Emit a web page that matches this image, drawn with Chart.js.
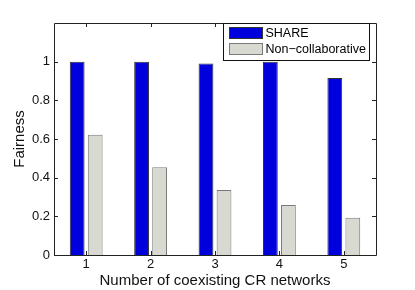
<!DOCTYPE html>
<html>
<head>
<meta charset="utf-8">
<script src="https://cdn.jsdelivr.net/npm/chart.js@4/dist/chart.umd.min.js"></script>
<style>
  html, body { margin:0; padding:0; background:#fff; }
  #wrap { width:415px; height:290px; }
</style>
</head>
<body>
<div id="wrap"><canvas id="c" width="415" height="290"></canvas></div>
<script>
(function(){
  'use strict';

  const categories = ['1', '2', '3', '4', '5'];
  const shareValues = [1.0, 1.0, 0.99, 1.0, 0.915];
  const nonCollabValues = [0.622, 0.454, 0.336, 0.258, 0.193];
  const yTicks = [0, 0.2, 0.4, 0.6, 0.8, 1];
  const seriesNames = ['SHARE', 'Non\u2212collaborative'];

  const FONT = 'Liberation Sans, Arial, Helvetica, sans-serif';

  // box around plot + inward ticks on all four sides (matlab style)
  const framePlugin = {
    id: 'frame',
    afterDatasetsDraw(chart){
      const { ctx, chartArea: a, scales } = chart;
      const x = scales.x, y = scales.y;
      ctx.save();
      ctx.strokeStyle = '#222';
      ctx.lineWidth = 1;
      ctx.beginPath();
      ctx.rect(Math.round(a.left)+0.5, Math.round(a.top)+0.5, Math.round(a.right-a.left), Math.round(a.bottom-a.top));
      ctx.stroke();
      const tl = 4;
      ctx.beginPath();
      yTicks.forEach(v => {
        const py = Math.round(y.getPixelForValue(v)) + 0.5;
        ctx.moveTo(a.left, py); ctx.lineTo(a.left + tl, py);
        ctx.moveTo(a.right, py); ctx.lineTo(a.right - tl, py);
      });
      categories.forEach((c, i) => {
        const px = Math.round(x.getPixelForValue(i)) + 0.5;
        ctx.moveTo(px, a.bottom); ctx.lineTo(px, a.bottom - tl);
        ctx.moveTo(px, a.top); ctx.lineTo(px, a.top + tl);
      });
      ctx.stroke();
      ctx.restore();
    }
  };

  // legend box inside the top-right corner
  const boxLegend = {
    id: 'boxLegend',
    afterDraw(chart){
      const { ctx, chartArea: a } = chart;
      const ds = chart.data.datasets;
      const w = 146, h = 37;
      const lx = Math.round(a.right - w - 7) + 0.5, ly = Math.round(a.top) + 0.5;
      ctx.save();
      ctx.fillStyle = '#fff';
      ctx.fillRect(lx, ly, w, h);
      ctx.strokeStyle = '#111';
      ctx.lineWidth = 1;
      ctx.strokeRect(lx, ly, w, h);
      ctx.font = '12.5px ' + FONT;
      ctx.textBaseline = 'middle';
      ds.forEach((d, i) => {
        const sy = ly + 4 + i * 16;
        ctx.fillStyle = d.backgroundColor;
        ctx.fillRect(lx + 6, sy, 33, 11);
        ctx.strokeStyle = d.borderColor;
        ctx.strokeRect(lx + 6, sy, 33, 11);
        ctx.fillStyle = '#000';
        ctx.fillText(d.label, lx + 42, sy + 6);
      });
      ctx.restore();
    }
  };

  new Chart(document.getElementById('c'), {
    type: 'bar',
    data: {
      labels: categories,
      datasets: [
        { label: seriesNames[0], data: shareValues, backgroundColor: '#0000dc', borderColor: '#333', borderWidth: 1,
          categoryPercentage: 0.56, barPercentage: 0.82 },
        { label: seriesNames[1], data: nonCollabValues, backgroundColor: '#d8dad2', borderColor: '#7a7a7a', borderWidth: 1,
          categoryPercentage: 0.56, barPercentage: 0.82 }
      ]
    },
    options: {
      responsive: false,
      animation: false,
      layout: { padding: { left: 0, right: 39, top: 23, bottom: 0 } },
      plugins: { legend: { display: false }, tooltip: { enabled: false } },
      scales: {
        x: {
          grid: { display: false, drawTicks: false },
          border: { display: false },
          ticks: { color: '#111', font: { family: FONT, size: 13 }, padding: 2 },
          title: { display: true, text: 'Number of coexisting CR networks', color: '#111',
                   font: { family: FONT, size: 15 }, padding: { top: 0, bottom: 0 } },
          afterFit(s){ s.height = 35; }
        },
        y: {
          min: 0, max: 1.2,
          grid: { display: false, drawTicks: false },
          border: { display: false },
          afterBuildTicks(s){ s.ticks = yTicks.map(v => ({ value: v })); },
          ticks: { color: '#111', font: { family: FONT, size: 13 }, padding: 4,
                   callback: v => String(Math.round(v * 10) / 10) },
          title: { display: true, text: 'Fairness', color: '#111',
                   font: { family: FONT, size: 15 }, padding: { top: 11, bottom: 0 } },
          afterFit(s){ s.width = 54; }
        }
      }
    },
    plugins: [framePlugin, boxLegend]
  });
})();
</script>
</body>
</html>
